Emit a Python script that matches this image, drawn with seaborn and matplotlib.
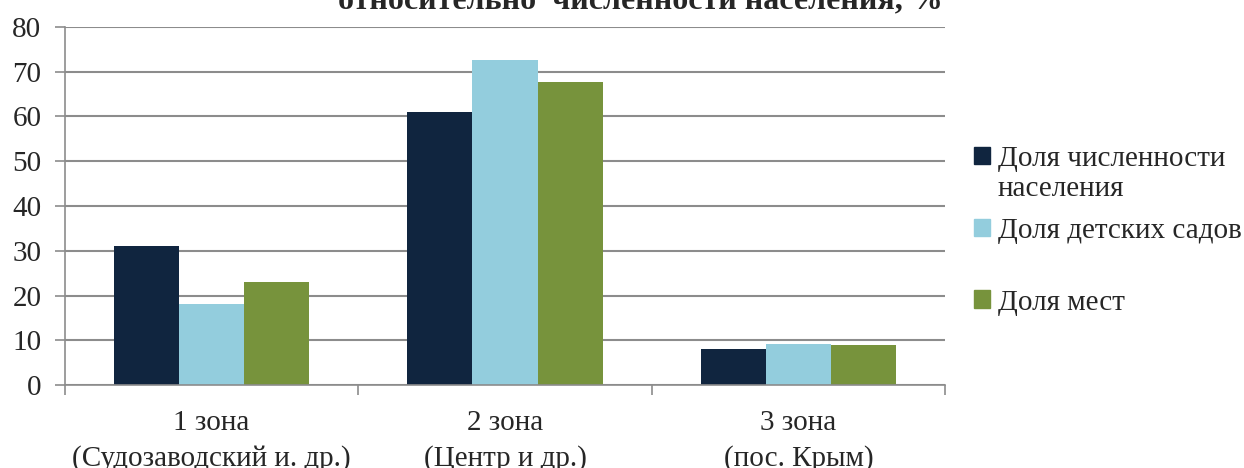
import matplotlib
matplotlib.use("Agg")
import matplotlib.pyplot as plt
import matplotlib.patches as mpatches
import seaborn as sns
import pandas as pd

zones = ["1 зона\n(Судозаводский и. др.)", "2 зона\n(Центр и др.)", "3 зона\n(пос. Крым)"]
series = ["Доля численности населения", "Доля детских садов", "Доля мест"]
pop_share = [31.0, 61.0, 8.0]
kinder_share = [18.1, 72.7, 9.1]
places_share = [23.1, 67.8, 9.0]
colors = ["#10253F", "#93CDDD", "#77933C"]
title = "относительно  численности населения, %"

rows = []
for s, vals in zip(series, [pop_share, kinder_share, places_share]):
    for z, v in zip(zones, vals):
        rows.append({"zone": z, "series": s, "value": v})
df = pd.DataFrame(rows)

sns.set_style("white")
plt.rcParams["font.family"] = ["Liberation Serif", "DejaVu Serif"]

FS = 21
W, H = 1244, 468
fig = plt.figure(figsize=(W / 100, H / 100), dpi=100)
ax = fig.add_axes([65 / W, 1 - 385 / H, (945 - 65) / W, (385 - 27) / H])

sns.barplot(data=df, x="zone", y="value", hue="series", palette=colors,
            width=2 / 3, gap=0, ax=ax, legend=False, saturation=1,
            edgecolor="none", linewidth=0)

ax.set_xlim(-0.5, 2.5)
ax.set_ylim(0, 80)
ax.set_yticks(range(0, 81, 10))
ax.yaxis.grid(True, color="#8C8C8C", linewidth=1.5)
ax.set_axisbelow(True)
ax.set_xlabel("")
ax.set_ylabel("")

ax.set_xticks([-0.5, 0.5, 1.5, 2.5])
ax.set_xticklabels([])
ax.set_xticks([0, 1, 2], minor=True)
ax.set_xticklabels(zones, minor=True, fontsize=FS, linespacing=1.45)
ax.tick_params(axis="x", which="major", direction="out", length=7, width=1.2, color="#8C8C8C", bottom=True)
ax.tick_params(axis="x", which="minor", length=0, pad=18)
ax.tick_params(axis="y", direction="out", length=7, width=1.2, color="#8C8C8C", labelsize=FS, pad=10, left=True)

for side in ["top", "right"]:
    ax.spines[side].set_visible(False)
for side in ["left", "bottom"]:
    ax.spines[side].set_color("#8C8C8C")
    ax.spines[side].set_linewidth(1.2)

handles = [mpatches.Patch(color=c) for c in colors]
labels = ["Доля численности", "Доля детских садов", "Доля мест"]
leg = fig.legend(handles, labels, loc="upper left", bbox_to_anchor=(974 / W, 1 - 146 / H),
                 frameon=False, fontsize=FS, handlelength=0.55, handleheight=0.55,
                 handletextpad=0.27, labelspacing=1.57, borderaxespad=0, borderpad=0)
fig.text(998 / W, 1 - 189 / H, "населения", fontsize=FS, va="center", ha="left")

fig.text(640 / W, 1 - 8 / H, title, fontsize=23, fontweight="bold", ha="center", va="baseline")

fig.savefig("out.png", dpi=100)
